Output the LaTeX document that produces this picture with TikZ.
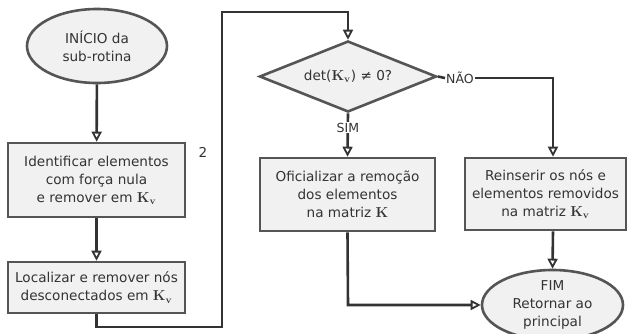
\documentclass[tikz,border=0pt]{standalone}
\usepackage[no-math]{fontspec}
\setmainfont{DejaVu Sans}
\usetikzlibrary{shapes.geometric,arrows.meta}
\definecolor{linec}{HTML}{333333}
\definecolor{boxc}{HTML}{555555}
\definecolor{fillc}{HTML}{F1F1F1}
\definecolor{txtc}{HTML}{333333}
\newcommand{\Kv}{$\mathbf{K}_{\mathbf{v}}$}
\begin{document}
\begin{tikzpicture}[x=1pt,y=-1pt,
  font=\fontsize{13.6}{18}\selectfont, text=txtc,
  boxst/.style={draw=boxc,line width=2.6pt,fill=fillc,rectangle,align=center,inner sep=0pt},
  ellst/.style={draw=boxc,line width=2.6pt,fill=fillc,ellipse,align=center,inner sep=0pt},
  conn/.style={draw=linec,line width=2.6pt},
  arr/.style={conn,-{Triangle[width=10pt,length=10pt,fill=white,line width=1.8pt]}},
  lbl/.style={fill=white,inner sep=1pt,font=\fontsize{12.5}{14}\selectfont}]
\useasboundingbox[fill=white] (0,0) rectangle (630,333);
\node[ellst,minimum width=140pt,minimum height=74pt] (start) at (97,46) {INÍCIO da\\sub-rotina};
\node[boxst,minimum width=177pt,minimum height=74pt] (b1) at (96.5,180) {Identificar elementos\\com força nula\\e remover em \Kv};
\node (two) at (203,152) {2};
\node[boxst,minimum width=177pt,minimum height=51pt] (b2) at (96.5,287.5) {Localizar e remover nós\\desconectados em \Kv};
\node[draw=boxc,line width=2.6pt,fill=fillc,diamond,aspect=2.5,inner sep=0pt,minimum width=177pt,minimum height=71pt] (dia) at (348,76.5) {det(\Kv) ≠ 0?};
\node[boxst,minimum width=175pt,minimum height=73pt] (b3) at (347.5,194.5) {Oficializar a remoção\\dos elementos\\na matriz $\mathbf{K}$};
\node[boxst,minimum width=161pt,minimum height=72pt] (b4) at (545.5,194) {Reinserir os nós e\\elementos removidos\\na matriz \Kv};
\node[ellst,minimum width=141pt,minimum height=70pt] (fim) at (552.5,305) {FIM\\Retornar ao\\principal};
\node[lbl] (nao) at (460,78) {NÃO};
\coordinate (c1) at (96.5,327);
\coordinate (c2) at (222,327);
\coordinate (c3) at (222,12);
\coordinate (c4) at (348,12);
\coordinate (c5) at (553,78);
\coordinate (c6) at (348,305);
\draw[arr] (start) -- (b1);
\draw[arr] (b1) -- (b2);
\draw[arr] (b2.south) -- (c1) -- (c2) -- (c3) -- (c4) -- (dia.north);
\draw[arr] (dia.south) -- node[lbl,pos=0.33] (sim) {SIM} (b3.north);
\draw[conn] (dia.east) -- (nao.west);
\draw[arr] (nao.east) -- (c5) -- (c5 |- b4.north);
\draw[arr] (b4.south -| c5) -- (fim.north);
\draw[arr] (b3.south) -- (c6) -- (fim.west);
\end{tikzpicture}
\end{document}
